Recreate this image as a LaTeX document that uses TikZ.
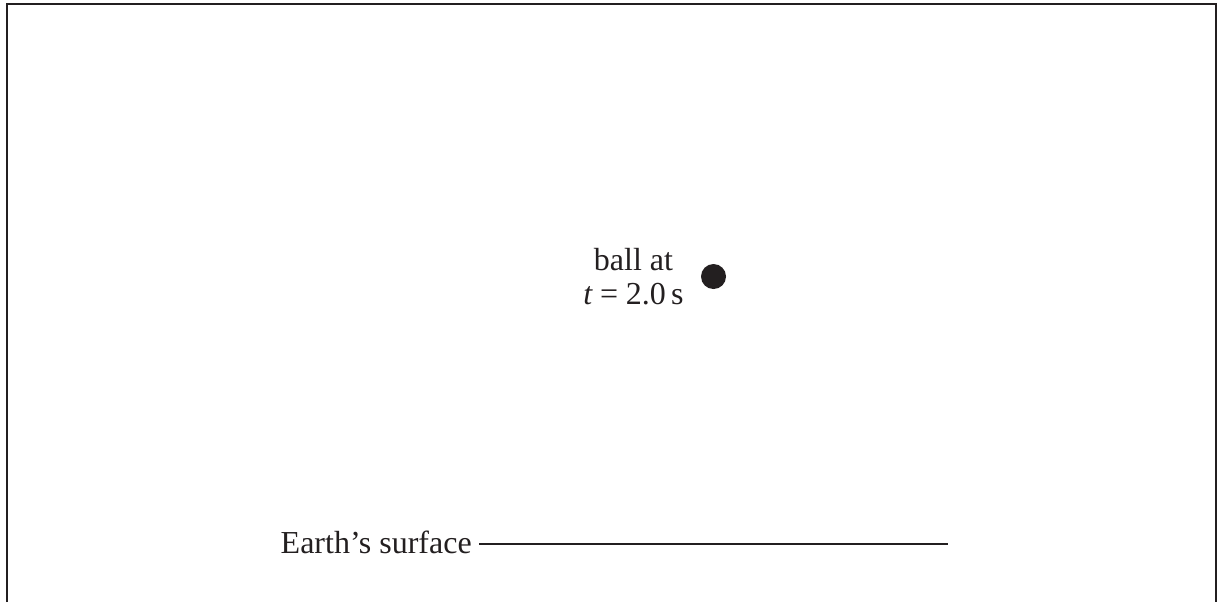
\documentclass[tikz,border=0pt]{standalone}
\usepackage{fontspec}
\setmainfont{Liberation Serif}
\usetikzlibrary{positioning}
\definecolor{ink}{HTML}{231F20}

\begin{document}
\begin{tikzpicture}[x=0.01cm, y=-0.01cm,
  border/.style={draw=ink, line width=0.55pt},
  ground/.style={draw=ink, line width=0.4pt},
  ballnode/.style={circle, fill=ink, minimum size=0.25cm, inner sep=0pt},
  tag/.style={font=\fontsize{9.1}{9.7}\selectfont, text=ink, inner sep=0pt, align=center},
]
  \useasboundingbox (0,0) rectangle (1224,602);
  % frame, open at the bottom
  \coordinate (fbl) at (7,602);
  \coordinate (ftl) at (7,4);
  \coordinate (ftr) at (1216,4);
  \coordinate (fbr) at (1216,602);
  \draw[border] (fbl) -- (ftl) -- (ftr) -- (fbr);

  % the ball and its label
  \node[ballnode] (ball) at (713.5,276.5) {};
  \node[tag, left=0.16cm of ball] (balltag) {ball at\\{\itshape t}\kern0.24em=\kern0.24em2.0\,s};

  % ground
  \node[tag, anchor=base west] (surf) at (280,553) {Earth’s surface};
  \coordinate (gnd) at (948,544);
  \draw[ground] ([xshift=0.07cm]surf.east |- gnd) -- (gnd);
\end{tikzpicture}
\end{document}
